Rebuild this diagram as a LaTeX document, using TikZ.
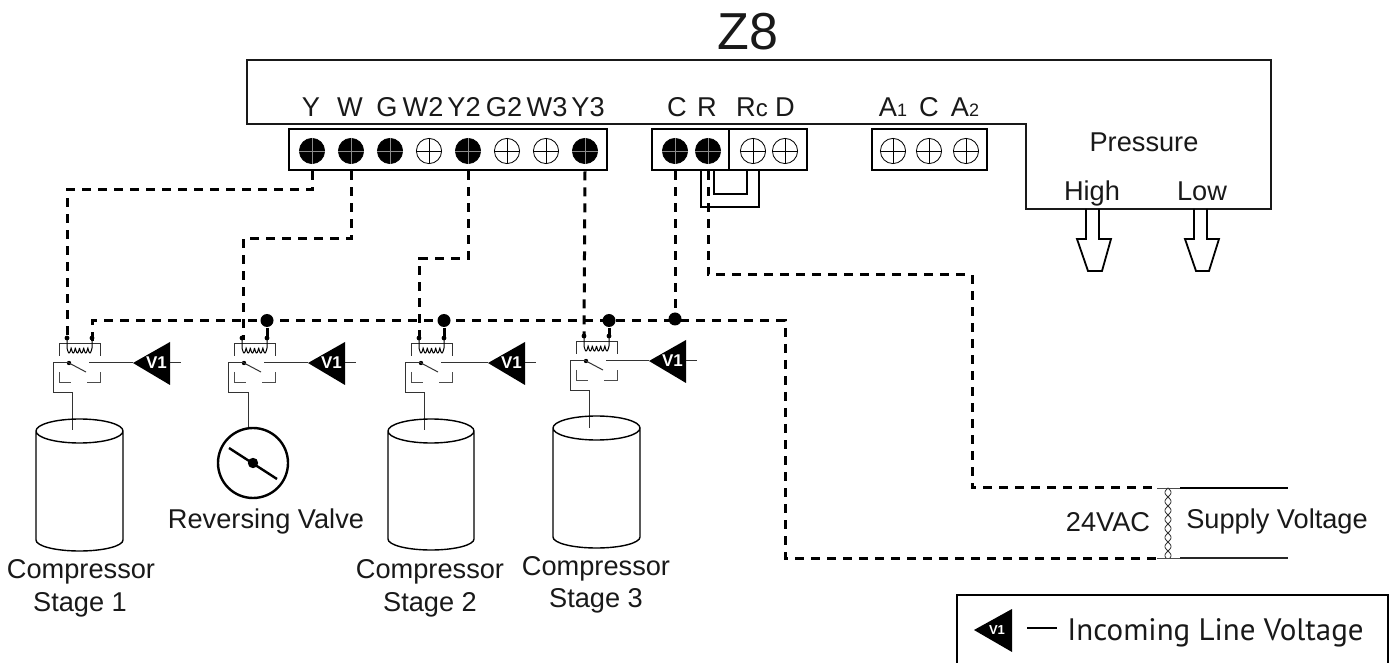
\documentclass[tikz,border=0pt]{standalone}
\usepackage{fontspec}
\setmainfont{Liberation Sans}
\newfontfamily\legendfont{PT Sans}
\tikzset{
  lbl/.style={inner sep=0pt,anchor=base,font=\fontsize{13.6}{16}\selectfont,text=black!90},
  blockbox/.style={draw=black,line width=1.3pt,inner sep=0pt,minimum height=20.5pt},
  housing/.style={draw=black!90,line width=1pt,line join=miter},
  wiredash/.style={draw=black,line width=1.5pt,dash pattern=on 4.5pt off 3.5pt},
  thinwire/.style={draw=black!80,line width=.5pt},
  bodyline/.style={draw=black,line width=.7pt},
  junction/.style={circle,fill=black,inner sep=0pt,minimum size=6.5pt},
  fullscrew/.style={circle,draw=black,fill=black,line width=.4pt,inner sep=0pt,minimum size=12.6pt},
  openscrew/.style={circle,draw=black,fill=white,line width=.4pt,inner sep=0pt,minimum size=12.6pt},
}
% screw: name, x, y, style, cross colour
\newcommand{\screwnode}[5]{%
  \node[#4] (#1) at (#2,#3) {};
  \draw[#5,line width=.45pt] (#1.north) -- (#1.south) (#1.west) -- (#1.east);}
% relay: name dx dy tridx stemx stemend
\newcommand{\relayunit}[6]{%
 \begin{scope}[shift={(#2,#3)}]
  \coordinate (#1a) at (67,337);
  \coordinate (#1b) at (92,337);
  \draw[thinwire] (59,356) -- (59,344) -- (100,344) -- (100,356);
  \draw[draw=black,line width=.5pt,domain=0:25,samples=140]
     (67,338) -- (67,348) plot ({67+\x},{348+5*abs(sin(\x*6*7.2))}) -- (92,338);
  \fill[black] (67,338) circle (1.2pt) (92,338) circle (1.2pt);
  \fill[black] (69,363) circle (1.1pt);
  \draw[thinwire] (69,363) -- (86,372);
  \draw[thinwire,draw=black!70] (59,372) -- (59,383) -- (71,383);
  \draw[thinwire,draw=black!70] (87,383) -- (100,383) -- (100,372);
  \draw[thinwire] (69,363) -- (53,363) -- (53,393) -- (#5,393) -- (#5,#6);
  \coordinate (#1sw) at (89,363);
 \end{scope}
 \begin{scope}[shift={(#4,#3)}]
  \fill[black] (133,363) -- (170,342) -- (170,385) -- cycle;
  \node[inner sep=0pt,text=white,font=\fontsize{8.5}{9}\selectfont\bfseries] (#1v) at (156.5,363) {V1};
  \coordinate (#1tip) at (133,363);
  \draw[thinwire] (170,363) -- (181,363);
 \end{scope}
 \draw[thinwire] (#1sw) -- (#1tip);}
% cylinder
\newcommand{\cyl}[4]{% left right centery sidebottom
  \draw[bodyline] (#1,#3) arc[start angle=180,end angle=-180,x radius={(#2-#1)/2},y radius=12]
   (#1,#3) -- (#1,#4) arc[start angle=180,end angle=0,x radius={(#2-#1)/2},y radius=11] -- (#2,#3);}
\begin{document}
\begin{tikzpicture}[x=0.5pt,y=-0.5pt]
\useasboundingbox (0,0) rectangle (1399,663);
\fill[white] (0,0) rectangle (1399,663);

% title and housing
\node[lbl,font=\fontsize{26}{30}\selectfont] (title) at (748,50) {Z8};
\draw[housing] (247,60) -- (1271,60) -- (1271,209) -- (1026,209) -- (1026,124) -- (247,124) -- cycle;

% terminal blocks
\node[blockbox,minimum width=159pt] (blk1) at (448,149.5) {};
\node[blockbox,minimum width=38.5pt] (blk2) at (690.5,149.5) {};
\node[blockbox,minimum width=39pt] (blk3) at (768,149.5) {};
\node[blockbox,minimum width=57.5pt] (blk4) at (929.5,149.5) {};

\screwnode{sY}{312}{151}{fullscrew}{black!45}
\screwnode{sW}{351}{151}{fullscrew}{black!45}
\screwnode{sG}{390}{151}{fullscrew}{black!45}
\screwnode{sWb}{429}{151}{openscrew}{black}
\screwnode{sYb}{468}{151}{fullscrew}{black!45}
\screwnode{sGb}{507}{151}{openscrew}{black}
\screwnode{sWc}{546}{151}{openscrew}{black}
\screwnode{sYc}{585}{151}{fullscrew}{black!45}
\screwnode{sC}{675}{151}{fullscrew}{black!45}
\screwnode{sR}{708}{151}{fullscrew}{black!45}
\screwnode{sRc}{753}{151}{openscrew}{black}
\screwnode{sD}{785}{151}{openscrew}{black}
\screwnode{sAa}{893}{151}{openscrew}{black}
\screwnode{sCb}{929}{151}{openscrew}{black}
\screwnode{sAb}{966}{151}{openscrew}{black}

% terminal labels
\node[lbl] (tY) at (311,117) {Y};
\node[lbl] (tW) at (350,117) {W};
\node[lbl] (tG) at (387,117) {G};
\node[lbl] (tWb) at (423,117) {W2};
\node[lbl] (tYb) at (464,117) {Y2};
\node[lbl] (tGb) at (504,117) {G2};
\node[lbl] (tWc) at (547,117) {W3};
\node[lbl] (tYc) at (588,117) {Y3};
\node[lbl] (tC) at (677,117) {C};
\node[lbl] (tR) at (707,117) {R};
\node[lbl] (tRc) at (752,117) {R{\fontsize{12}{14}\selectfont c}};
\node[lbl] (tD) at (785,117) {D};
\node[lbl] (tAa) at (893,117) {A{\fontsize{9}{10}\selectfont 1}};
\node[lbl] (tCb) at (929,117) {C};
\node[lbl] (tAb) at (965,117) {A{\fontsize{9}{10}\selectfont 2}};
\node[lbl] (tP) at (1144,152) {Pressure};
\node[lbl] (tH) at (1092,201) {High};
\node[lbl] (tL) at (1202,201) {Low};

% jumper
\coordinate (jpa) at (701,207);
\coordinate (jpb) at (759,207);
\coordinate (jpc) at (714,194);
\coordinate (jpd) at (747,194);
\draw[draw=black,line width=1.3pt] (blk2.south -| jpa) -- (jpa) -- (jpb) -- (blk3.south -| jpb);
\draw[draw=black,line width=1.3pt] (blk2.south -| jpc) -- (jpc) -- (jpd) -- (blk3.south -| jpd);

% pressure arrows
\draw[draw=black,line width=.9pt,line join=miter] (1086,209) -- (1086,239) -- (1077,239) -- (1088,271) -- (1102,271) -- (1111,239) -- (1099,239) -- (1099,209);
\draw[draw=black,line width=.9pt,line join=miter] (1194,209) -- (1194,239) -- (1185,239) -- (1196,271) -- (1209,271) -- (1219,239) -- (1207,239) -- (1207,209);

% relays
\relayunit{ra}{0}{0}{0}{72}{430}
\relayunit{rb}{175}{0}{175}{73}{428}
\relayunit{rc}{352}{0}{355}{72}{430}
\relayunit{rd}{517}{-2}{516}{72}{430}

% loads
\cyl{36}{123}{431}{540}
\cyl{388}{474}{431}{539}
\cyl{553}{640}{428}{537}
\node[circle,draw=black,line width=1.2pt,inner sep=0pt,minimum size=35pt] (valve) at (253,463) {};
\draw[draw=black,line width=1.2pt] (229,448) -- (277,479);
\fill[black] (valve.center) circle (2.6pt);
\node[lbl] (lbv) at (266,528) {Reversing Valve};
\node[lbl] (lca) at (81,578) {Compressor};
\node[lbl] (lcb) at (80,611) {Stage 1};
\node[lbl] (lcc) at (430,578) {Compressor};
\node[lbl] (lcd) at (430,611) {Stage 2};
\node[lbl] (lce) at (596,575) {Compressor};
\node[lbl] (lcf) at (596,607) {Stage 3};

% junctions
\node[junction] (da) at (267,320.5) {};
\node[junction] (db) at (444,320.5) {};
\node[junction] (dc) at (609,320.5) {};
\node[junction] (dd) at (675,319) {};

% dashed control wires
\coordinate (ya) at (312,190);
\coordinate (yb) at (67,190);
\coordinate (wa) at (351,239);
\coordinate (wb) at (243,239);
\coordinate (ga) at (468,259);
\coordinate (gb) at (419,259);
\coordinate (ra1) at (708,275);
\coordinate (ra2) at (972,275);
\coordinate (ra3) at (972,488);
\coordinate (tfa) at (1157,488);
\coordinate (tfb) at (1157,558);
\coordinate (ma) at (92,321);
\coordinate (mb) at (785,321);
\coordinate (mc) at (785,558);
\draw[wiredash] (blk1.south -| ya) -- (ya) -- (yb) -- (67,336);
\draw[wiredash] (blk1.south -| wa) -- (wa) -- (wb) -- (243,340);
\draw[wiredash] (blk1.south -| ga) -- (ga) -- (gb) -- (419,340);
\draw[wiredash] (blk1.south -| sYc) -- (584,338);
\draw[wiredash] (blk2.south -| sC) -- (dd);
\draw[wiredash] (blk2.south -| ra1) -- (ra1) -- (ra2) -- (ra3) -- (tfa);
\draw[wiredash] (92,341) -- (ma) -- (mb) -- (mc) -- (tfb);
\draw[draw=black,line width=1.5pt] (267,328) -- (267,338);
\draw[draw=black,line width=1.5pt] (444,328) -- (444,338);
\draw[draw=black,line width=1.5pt] (609,328) -- (609,336);

% transformer
\coordinate (soa) at (1180,488);
\coordinate (sob) at (1288,488);
\coordinate (sua) at (1180,558);
\coordinate (sub) at (1288,558);
\draw[draw=black,line width=1pt] (soa) -- (sob);
\draw[draw=black!85,line width=1pt] (sua) -- (sub);
\draw[draw=black!70,line width=.4pt] (tfa) -- (soa) (tfb) -- (sua);
\draw[draw=black!80,line width=.4pt,domain=0:70,samples=120,smooth] plot ({1168+3*sin(\x*20)},{488+\x});
\draw[draw=black!80,line width=.4pt,domain=0:70,samples=120,smooth] plot ({1168-3*sin(\x*20)},{488+\x});
\node[lbl] (lac) at (1108,531) {24VAC};
\node[lbl] (lsv) at (1277,529) {Supply Voltage};

% legend
\draw[draw=black,line width=1.3pt] (957,663) -- (957,595) -- (1388,595) -- (1388,663);
\fill[black] (974,630) -- (1012,609) -- (1012,652) -- cycle;
\node[inner sep=0pt,text=white,font=\fontsize{6.5}{8}\selectfont\bfseries] (lv) at (997,630) {V1};
\coordinate (lda) at (1027,628);
\coordinate (ldb) at (1057,628);
\draw[draw=black,line width=.6pt] (lda) -- (ldb);
\node[inner sep=0pt,anchor=base west,font=\legendfont\fontsize{15.5}{19}\selectfont,text=black!90] (ltx) at (1067,640) {Incoming Line Voltage};
\end{tikzpicture}
\end{document}
